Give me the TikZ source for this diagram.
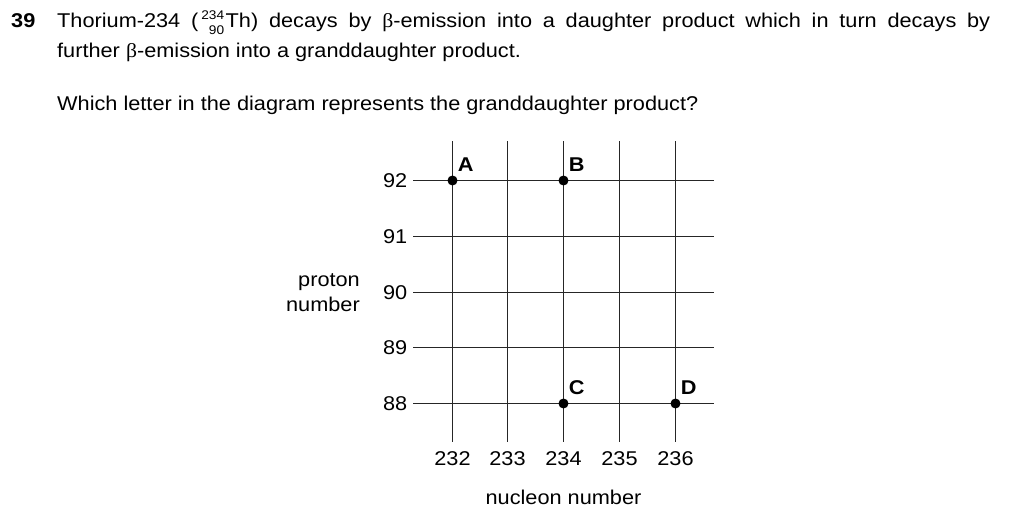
\documentclass[tikz,border=0pt]{standalone}
\usepackage{fontspec}
\setmainfont{Liberation Sans}[FakeStretch=1.09]
\newfontfamily\greekfont{Liberation Serif}[FakeStretch=1.09]
\usetikzlibrary{positioning}
\newcommand{\nuc}[2]{\hspace{3bp}{\fontsize{12.6}{13}\selectfont\raisebox{8.4bp}{#1}\llap{\raisebox{-6.6bp}{#2}}}\hspace{1.5bp}}
\newcommand{\bet}{{\greekfont β}}
\tikzset{
  txt/.style={inner sep=0pt, font=\fontsize{20}{24}\selectfont},
  dot/.style={circle, fill, inner sep=0pt, minimum size=10bp},
  letter/.style={inner sep=0pt, font=\fontsize{20}{24}\selectfont\bfseries},
  grid line/.style={line width=1.4bp, black!85}
}
\begin{document}
\begin{tikzpicture}[x=1bp,y=-1bp]
\useasboundingbox (0,0) rectangle (1024,531);
% question text
\node[letter, anchor=base west] (qnum) at (11,27.5) {39};
\node[txt, anchor=base west] (line1) at (57,27.5) {\makebox[933bp][s]{Thorium-234 (\nuc{234}{90}Th) decays by \bet-emission into a daughter product which in turn decays by}};
\node[txt, anchor=base west] (line2) at (57,58) {further \bet-emission into a granddaughter product.};
\node[txt, anchor=base west] (question) at (57,110.5) {Which letter in the diagram represents the granddaughter product?};
% grid
\foreach \x in {452.5,507.5,563.5,619.5,675.5}
  \draw[grid line] (\x,141.5) -- (\x,442);
\foreach \y in {180.5,236.5,292.5,347.5,403.5}
  \draw[grid line] (413.3,\y) -- (714,\y);
% axis numbers
\foreach \y/\p in {180.5/92,236.5/91,292.5/90,347.5/89,403.5/88}
  \node[txt, anchor=east] (p\p) at (407.5,\y) {\p};
\foreach \x/\n in {452.5/232,507.5/233,563.5/234,619.5/235,675.5/236}
  \node[txt, anchor=base] (n\n) at (\x,465) {\n};
% axis titles
\node[txt, anchor=base east] (ytitle) at (360,286.7) {proton};
\node[txt, anchor=base east] (ytitleb) at (360,311.7) {number};
\node[txt, anchor=base] (xtitle) at (563.5,504.5) {nucleon number};
% points
\node[dot] (A) at (452.5,180.5) {};
\node[dot] (B) at (563.5,180.5) {};
\node[dot] (C) at (563.5,403.5) {};
\node[dot] (D) at (675.5,403.5) {};
\node[letter, above right=5bp and 1.5bp of A] (labA) {A};
\node[letter, above right=5bp and 1.5bp of B] (labB) {B};
\node[letter, above right=5bp and 1.5bp of C] (labC) {C};
\node[letter, above right=5bp and 1.5bp of D] (labD) {D};
\end{tikzpicture}
\end{document}
